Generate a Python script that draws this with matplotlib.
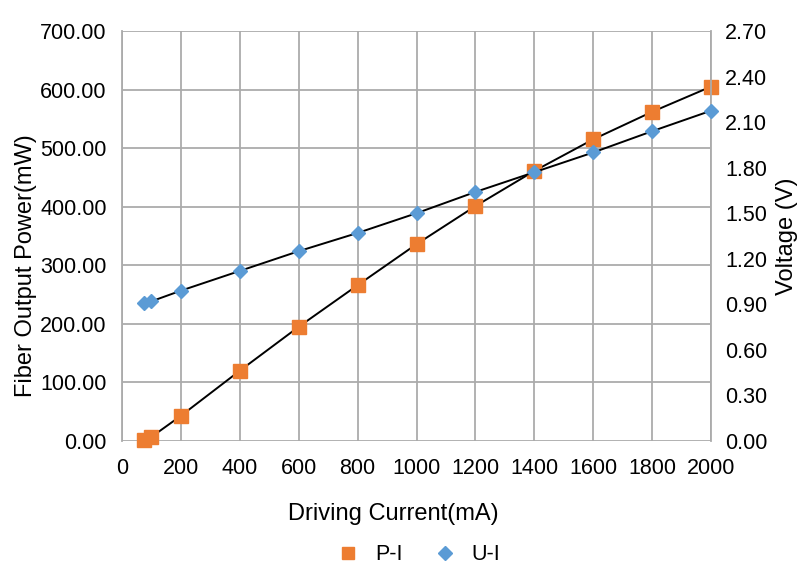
import matplotlib.pyplot as plt
from matplotlib.ticker import FormatStrFormatter
from matplotlib.lines import Line2D

plt.rcParams["font.family"] = ["Liberation Sans", "DejaVu Sans"]

current = [75, 100, 200, 400, 600, 800, 1000, 1200, 1400, 1600, 1800, 2000]
power = [1, 7, 43, 120, 195, 266, 336, 401, 461, 515, 562, 605]
voltage = [0.91, 0.92, 0.99, 1.12, 1.25, 1.37, 1.50, 1.64, 1.77, 1.90, 2.04, 2.175]

orange = "#ED7D31"
blue = "#5B9BD5"
grid = "#ABABAB"

fig = plt.figure(figsize=(8, 5.71), dpi=100)
ax = fig.add_axes([122 / 800, 1 - 441 / 571, (711 - 122) / 800, (441 - 31) / 571])
ax2 = ax.twinx()

ax.plot(current, power, color="black", lw=1.4, zorder=2)
ax.plot(current, power, ls="none", marker="s", ms=9.5, color=orange,
        zorder=3, clip_on=False)
ax2.plot(current, voltage, color="black", lw=1.4, zorder=2)
ax2.plot(current, voltage, ls="none", marker="D", ms=7, color=blue,
         zorder=3, clip_on=False)

ax.set_xlim(0, 2000)
ax.set_ylim(0, 700)
ax2.set_ylim(0, 2.7)
ax.set_xticks(range(0, 2001, 200))
ax.set_yticks(range(0, 701, 100))
ax2.set_yticks([i * 0.3 for i in range(10)])
ax.yaxis.set_major_formatter(FormatStrFormatter("%.2f"))
ax2.yaxis.set_major_formatter(FormatStrFormatter("%.2f"))

ax.grid(True, color=grid, lw=1.3)
ax.set_axisbelow(True)
for a in (ax, ax2):
    for s in a.spines.values():
        s.set_visible(False)
    a.tick_params(length=0, labelsize=15.5, colors="black")
ax.spines["left"].set_visible(True)
ax.spines["left"].set_color(grid)
ax.spines["left"].set_linewidth(1.3)
ax2.spines["right"].set_visible(True)
ax2.spines["right"].set_color(grid)
ax2.spines["right"].set_linewidth(1.3)
ax.tick_params(axis="y", pad=11)
ax.tick_params(axis="x", pad=12)
ax2.tick_params(axis="y", pad=10)

ax.set_xlabel("Driving Current(mA)", fontsize=17)
ax.xaxis.set_label_coords(0.461, -0.151)
ax.set_ylabel("Fiber Output Power(mW)", fontsize=17)
ax.yaxis.set_label_coords(-0.144, 0.427)
ax2.set_ylabel("Voltage (V)", fontsize=17, labelpad=6)

handles = [
    Line2D([], [], ls="none", marker="s", ms=9, color=orange),
    Line2D([], [], ls="none", marker="D", ms=7, color=blue),
]
fig.legend(handles, ["P-I", "U-I"], loc="center",
           bbox_to_anchor=(418 / 800, 1 - 555 / 571),
           ncol=2, frameon=False, fontsize=15.5, handlelength=1.2,
           columnspacing=1.35, handletextpad=0.65)

fig.savefig("out.png", dpi=100)
